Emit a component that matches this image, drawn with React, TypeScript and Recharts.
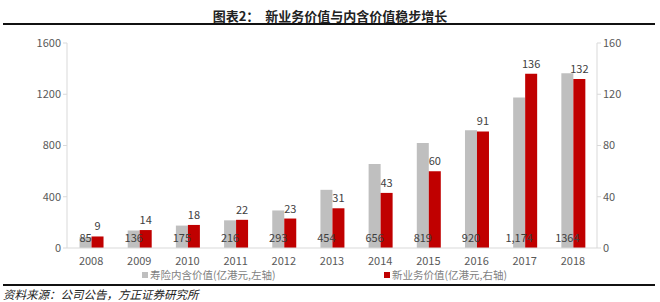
import React from 'react';
import { ComposedChart, Bar, XAxis, YAxis, LabelList } from 'recharts';

const years = ['2008', '2009', '2010', '2011', '2012', '2013', '2014', '2015', '2016', '2017', '2018'];
const embeddedValue = [85, 136, 175, 216, 293, 454, 656, 819, 920, 1174, 1364];
const embeddedLabels = ['85', '136', '175', '216', '293', '454', '656', '819', '920', '1,174', '1364'];
const newBizValue = [9, 14, 18, 22, 23, 31, 43, 60, 91, 136, 132];
const leftTicks = [0, 400, 800, 1200, 1600];
const rightTicks = [0, 40, 80, 120, 160];

const GRAY = '#bfbfbf';
const RED = '#c00000';
const FONT = '"Noto Sans CJK SC", "Noto Sans", sans-serif';

const data = years.map((year, i) => ({
  year,
  ev: embeddedValue[i],
  evLabel: embeddedLabels[i],
  nbv: newBizValue[i],
}));

export default function App() {
  return (
    <div style={{ position: 'absolute', left: 0, top: 0, width: 660, height: 302, background: '#fff', fontFamily: FONT, overflow: 'hidden' }}>
      {/* title */}
      <div style={{ position: 'absolute', top: 8, left: 0, width: 660, textAlign: 'center', fontSize: 13, lineHeight: '16px', fontWeight: 'bold', color: '#222', whiteSpace: 'pre' }}>
        图表2：  新业务价值与内含价值稳步增长
      </div>
      <div style={{ position: 'absolute', top: 23, left: 3, width: 652, height: 2, background: '#111' }} />

      <ComposedChart
        width={660}
        height={302}
        data={data}
        margin={{ top: 43, right: 0, bottom: 24, left: 0 }}
        barCategoryGap="26%"
        barGap={0}
      >
        <XAxis
          dataKey="year"
          tickLine={false}
          axisLine={{ stroke: '#d9d9d9' }}
          tick={{ fontSize: 11, fill: '#595959', fontFamily: FONT }}
          tickMargin={3}
        />
        <YAxis
          yAxisId="left"
          width={67}
          domain={[0, 1600]}
          ticks={leftTicks}
          axisLine={{ stroke: '#d9d9d9' }}
          tickLine={{ stroke: '#d9d9d9' }}
          tickSize={4}
          tick={{ fontSize: 11, fill: '#595959', fontFamily: FONT }}
        />
        <YAxis
          yAxisId="right"
          orientation="right"
          width={63}
          domain={[0, 160]}
          ticks={rightTicks}
          axisLine={{ stroke: '#d9d9d9' }}
          tickLine={{ stroke: '#d9d9d9' }}
          tickSize={4}
          tick={{ fontSize: 11, fill: '#595959', fontFamily: FONT }}
        />
        <Bar yAxisId="left" dataKey="ev" fill={GRAY} isAnimationActive={false}>
          <LabelList dataKey="evLabel" position="insideBottom" offset={6} style={{ fontSize: 11, fill: '#404040', fontFamily: FONT }} />
        </Bar>
        <Bar yAxisId="right" dataKey="nbv" fill={RED} isAnimationActive={false}>
          <LabelList dataKey="nbv" position="top" offset={6} style={{ fontSize: 11, fill: '#404040', fontFamily: FONT }} />
        </Bar>
      </ComposedChart>

      {/* legend */}
      <div style={{ position: 'absolute', top: 269, left: 142, fontSize: 10.5, lineHeight: '12px', color: '#7f7f7f', display: 'flex', alignItems: 'center', whiteSpace: 'nowrap' }}>
        <span style={{ display: 'inline-block', width: 6, height: 6, background: GRAY, marginRight: 2 }} />
        寿险内含价值(亿港元,左轴)
      </div>
      <div style={{ position: 'absolute', top: 269, left: 384, fontSize: 10.5, lineHeight: '12px', color: '#7f7f7f', display: 'flex', alignItems: 'center', whiteSpace: 'nowrap' }}>
        <span style={{ display: 'inline-block', width: 6, height: 6, background: RED, marginRight: 2 }} />
        新业务价值(亿港元,右轴)
      </div>

      {/* footer */}
      <div style={{ position: 'absolute', top: 284, left: 3, width: 652, height: 2, background: '#111' }} />
      <div style={{ position: 'absolute', top: 288, left: 3, fontSize: 11.5, lineHeight: '13px', fontStyle: 'italic', color: '#222', whiteSpace: 'nowrap' }}>
        资料来源：公司公告，方正证券研究所
      </div>
    </div>
  );
}
